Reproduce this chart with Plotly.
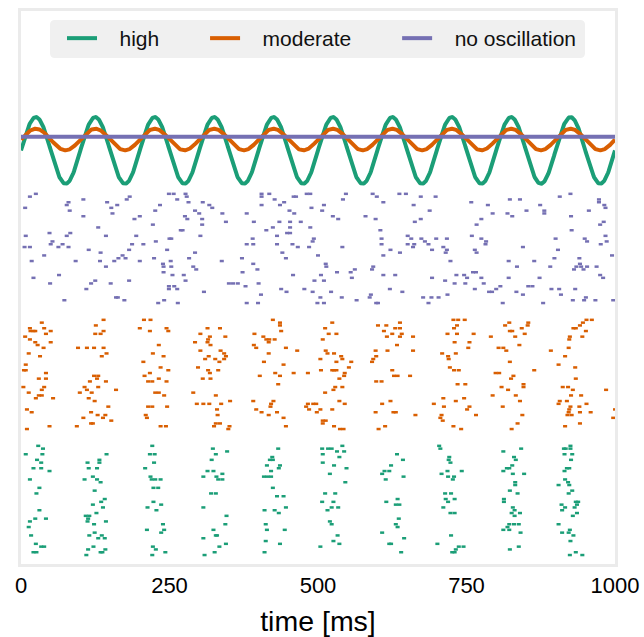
import numpy as np
import plotly.graph_objects as go

# ---------------- data ----------------
groups = ["high", "moderate", "no oscillation"]
colors = {"high": "#1b9e77", "moderate": "#d95f02", "no oscillation": "#7570b3"}

# spikes: (time [ms], neuron index within group 0..39)
high_spikes = [
    (29,39),(37,38),(8,36),(36,36),(27,34),(34,33),(21,31),(34,31),(48,30),(15,27),(31,24),(26,22),(31,16),(24,13),(42,13),(15,12),(13,10),(17,7),(25,4),(34,3),(39,3),(21,1),(26,1),
    (144,36),(132,34),(132,33),(112,33),(114,31),(128,31),(121,28),(128,27),(107,27),(134,26),(124,23),(141,20),(135,19),(121,18),(138,17),(127,15),(109,14),(115,14),(113,13),(112,12),(143,12),(123,11),(124,8),(115,7),(136,7),(130,6),(141,6),(122,3),(113,2),(142,2),(134,1),(137,1),(110,0),
    (221,39),(217,36),(225,36),(224,33),(209,31),(218,28),(220,27),(226,27),(235,27),(223,24),(231,24),(223,19),(236,18),(213,17),(228,16),(239,11),(241,9),(212,9),(236,8),(222,3),(227,2),(243,1),(221,0),
    (323,38),(347,37),(328,36),(321,34),(314,30),(324,30),(307,28),(339,29),(329,28),(332,27),(339,27),(320,22),(328,22),(307,17),(346,14),(344,11),(324,9),(328,7),(330,7),(307,6),(345,4),(334,3),(326,1),(309,0),
    (433,38),(423,35),(419,34),(424,34),(414,32),(436,32),(434,31),(421,30),(409,28),(415,28),(421,28),(424,24),(431,21),(442,21),(446,17),(410,16),(427,16),(434,15),(412,11),(414,9),(444,9),(412,5),(436,4),(410,1),
    (507,38),(517,38),(508,36),(508,33),(520,29),(512,22),(507,19),(516,16),(520,12),(504,3),
    (523,38),(541,39),(532,37),(544,37),(536,35),(527,32),(548,31),(546,26),(529,22),(526,19),(523,17),(534,17),(523,11),(533,7),(526,5),(536,4),
    (633,36),(643,34),(623,32),(612,30),(620,30),(608,29),(614,27),(644,28),(634,20),(615,19),(631,18),(637,18),(636,13),(631,11),(634,10),(608,8),(645,6),(620,4),(623,4),(640,1),
    (704,39),(706,38),(721,35),(720,34),(723,33),(718,30),(742,30),(708,29),(719,28),(729,28),(727,27),(714,22),(724,22),(715,20),(730,20),(719,19),(711,17),(723,15),(730,15),(724,7),(701,4),(737,3),(745,3),(732,2),(726,1),(730,1),
    (812,37),(842,38),(830,35),(833,34),(827,32),(818,31),(822,31),(812,30),(828,29),(847,29),(832,26),(832,25),(823,23),(836,22),(813,20),(813,19),(828,17),(831,16),(826,15),(840,15),(831,14),(822,11),(830,11),(838,11),(819,10),(812,9),(822,9),(841,8),(838,3),(823,2),
    (914,38),(917,38),(925,39),(925,38),(915,36),(928,36),(926,34),(919,31),(923,31),(915,30),(916,27),(921,26),(923,25),(905,25),(928,23),(922,22),(934,19),(938,19),(936,18),(910,18),(916,17),(932,17),(911,16),(936,15),(929,14),(905,11),(924,9),(911,8),(922,8),(930,7),(925,5),(924,0),(934,1),(945,0),
]

moderate_spikes = [
    (35,38),(15,36),(16,35),(21,35),(24,35),(39,36),(50,35),(42,34),(7,33),(15,32),(24,31),(28,30),(50,31),(38,29),(13,27),(32,26),(8,23),(5,21),(8,21),(42,20),(30,18),(42,18),(4,15),(39,15),(35,14),(13,13),(30,12),(35,12),(25,11),(54,11),(10,7),(18,6),(48,1),(10,0),
    (139,39),(126,37),(125,34),(134,34),(139,35),(96,29),(111,29),(123,29),(139,29),(144,27),(136,26),(123,19),(130,19),(128,18),(116,17),(143,17),(107,15),(130,15),(160,14),(111,14),(99,13),(119,13),(114,11),(124,10),(147,8),(118,6),(129,5),(142,5),(105,4),(138,4),(152,3),(118,2),(121,2),(94,1),
    (207,39),(218,39),(200,36),(217,35),(245,36),(248,35),(232,30),(222,27),(240,26),(206,24),(235,22),(248,21),(217,20),(208,19),(214,17),(221,17),(232,18),(245,17),(226,13),(232,13),(241,12),(214,8),(221,8),(246,8),(210,5),(212,4),(235,1),(244,1),
    (314,36),(335,36),(302,34),(318,33),(344,33),(315,32),(314,31),(293,31),(319,30),(302,28),(336,28),(342,27),(345,26),(316,26),(310,25),(327,25),(342,25),(334,24),(298,22),(315,21),(318,20),(332,21),(306,18),(319,18),(290,13),(328,12),(352,10),(296,9),(307,9),(317,9),(337,9),(330,7),(331,5),(328,2),(335,2),(325,1),(351,1),(349,0),
    (424,39),(436,38),(436,37),(438,35),(393,34),(408,33),(413,32),(418,32),(427,32),(417,31),(392,30),(396,29),(446,29),(465,28),(417,27),(409,24),(442,23),(428,20),(459,20),(483,20),(436,19),(402,19),(433,16),(391,10),(425,10),(421,9),(420,8),(396,7),(405,6),(431,6),(417,5),(442,4),(446,1),
    (512,36),(518,34),(508,32),(513,28),(516,27),(504,25),(505,21),(512,13),(483,9),(492,9),(497,9),(480,8),(485,7),(504,7),(498,6),(508,3),(513,3),(508,2),
    (524,38),(531,34),(527,27),(539,26),(541,25),(531,24),(556,24),(552,22),(524,21),(527,21),(531,21),(545,20),(544,19),(536,18),(529,15),(541,15),(526,14),(536,10),(545,9),(524,7),(527,1),(537,0),(543,0),
    (601,37),(615,37),(638,38),(630,36),(638,36),(611,35),(625,34),(641,34),(616,33),(638,33),(660,33),(633,30),(597,28),(617,28),(660,28),(598,26),(593,25),(591,24),(625,21),(628,19),(634,19),(655,19),(598,17),(607,17),(622,10),(608,9),(597,6),(627,6),(631,6),(664,5),(613,1),(602,0),
    (728,39),(736,39),(747,39),(734,37),(729,36),(718,34),(734,34),(762,34),(730,31),(755,31),(753,29),(709,27),(732,27),(719,26),(720,25),(722,22),(729,21),(737,21),(735,16),(748,16),(711,11),(746,11),(732,10),(695,9),(712,8),(755,8),(751,7),(766,5),(708,5),(706,4),(710,3),(728,1),(741,0),
    (822,38),(854,38),(853,37),(815,37),(843,36),(823,35),(827,35),(791,33),(832,33),(848,34),(839,30),(804,29),(812,29),(817,28),(823,24),(799,20),(805,20),(864,21),(829,19),(825,18),(846,16),(846,15),(809,15),(820,14),(794,12),(833,12),(840,10),(811,8),(844,5),(836,2),(826,0),
    (952,39),(961,39),(946,38),(941,37),(930,36),(934,36),(951,35),(924,33),(945,33),(923,32),(922,29),(892,28),(916,26),(905,23),(933,22),(934,18),(912,15),(921,15),(929,14),(985,14),(926,12),(943,12),(907,10),(919,10),(905,9),(952,9),(925,8),(940,8),(923,7),(922,6),(941,6),(959,6),(920,5),(927,5),(941,2),(916,1),(1000,7),(997,4),
]

none_spikes = [
    (15,38),(25,39),(7,34),(80,36),(77,35),(82,33),(105,37),(105,31),(48,25),(53,22),(50,21),(39,17),(18,15),(21,9),(49,7),(64,10),(73,1),(8,24),(6,20),(15,20),(63,20),(70,21),(80,20),(77,24),(83,25),(92,15),(114,19),(130,27),(134,18),(133,15),(143,13),(143,24),(110,5),(118,7),(125,8),(151,7),(160,2),(163,2),(174,1),(182,8),
    (145,36),(152,34),(154,32),(162,35),(178,37),(183,38),(191,30),(200,31),(194,24),(187,21),(182,19),(206,21),(200,15),(176,16),(171,17),(164,16),(157,15),(222,28),(226,33),(234,35),(227,22),(224,16),(239,14),(240,13),(240,11),(241,1),(231,0),
    (249,39),(257,39),(263,37),(277,39),(279,38),(282,36),(276,31),(280,30),(269,26),(272,26),(250,23),(253,23),(246,19),(252,15),(253,13),(255,10),(249,6),(258,6),(263,5),(249,5),(264,0),(274,10),(277,8),(283,16),(293,18),(290,13),(295,12),(308,4),(302,24),(305,28),(305,30),(300,32),(293,33),(306,36),(317,35),(322,34),
    (339,32),(345,29),(338,15),(350,7),(357,7),(365,7),(372,16),(373,11),(378,6),(380,0),(380,32),(390,23),(391,21),(380,21),(392,29),(391,14),(398,12),(400,7),(404,3),(399,0),
    (405,39),(405,38),(418,39),(427,37),(405,35),(413,26),(424,27),(431,24),(435,29),(436,35),(443,36),(452,33),(460,32),(453,29),(453,27),(448,25),(453,25),(457,21),(431,21),(440,18),(446,16),(458,10),(466,20),(471,29),(438,5),(447,4),(477,5),
    (485,20),(487,27),(489,34),(493,23),(491,22),(500,17),(494,8),(491,4),(504,2),(505,10),(510,8),(513,14),(514,13),(510,0),(499,0),(507,33),(510,35),(459,38),(463,38),(481,39),(487,39),
    (525,31),(534,30),(541,20),(542,37),(547,39),(532,11),(555,11),(562,12),(557,9),(522,4),(540,2),(565,1),(580,31),(592,39),(599,38),(610,36),(597,30),(605,26),(607,23),(607,21),(622,19),(610,17),(638,18),(593,13),(591,12),(610,10),(630,10),(621,5),(642,4),(589,3),(587,2),(598,0),(601,0),
    (637,39),(648,39),(661,35),(673,38),(698,38),(688,33),(663,29),(673,30),(651,24),(657,23),(674,23),(680,22),(686,21),(651,21),(662,21),(660,20),(692,19),(699,23),(717,23),(711,20),(717,19),(715,18),(723,15),(692,9),(714,8),(677,2),(691,2),(703,2),(686,0),(718,3),
    (733,10),(746,10),(751,9),(730,7),(748,7),(761,11),(766,11),(775,9),(779,7),(764,5),(788,4),(793,4),(800,5),(807,6),(811,0),(758,36),(786,35),(775,30),(767,28),(759,24),(775,23),(783,22),(782,21),(764,19),(767,18),
    (794,32),(819,32),(827,31),(823,37),(840,37),(851,33),(874,35),(881,33),(881,32),(845,20),(821,15),(835,13),(864,15),(821,9),(873,9),(834,4),(845,3),(854,6),(861,6),(879,0),
    (900,23),(904,19),(898,16),(891,13),(893,5),(906,5),(909,3),(907,38),(925,39),(926,31),(927,26),(956,33),(949,23),(953,22),(940,16),(941,14),(935,13),(943,13),(953,13),(931,12),(947,12),(969,13),(933,5),(929,1),(948,1),(951,2),(967,1),
    (973,37),(973,36),(982,35),(984,34),(975,28),(981,29),(984,24),(986,22),(976,21),(995,17),(975,10),(980,9),(997,1),
]

spikes = {"high": high_spikes, "moderate": moderate_spikes, "no oscillation": none_spikes}

# oscillatory drive (10 Hz), amplitude and baseline in raster-row units
drive_freq_hz = 10.0
drive_amplitude = {"high": 11.9, "moderate": 3.86, "no oscillation": 0.0}
drive_baseline = {"high": 144.5, "moderate": 148.4, "no oscillation": 149.4}

x_ticks = [0, 250, 500, 750, 1000]

# ---------------- layout constants ----------------
row_offset = {"high": 0, "moderate": 45, "no oscillation": 90}
FONT = "Liberation Sans, Arial, Helvetica, sans-serif"
W, H = 644, 637
ML, MR, MT, MB = 21, 29, 11, 73
PW, PH = W - ML - MR, H - MT - MB

def px_x(p):  # pixel -> paper x
    return (p - ML) / PW

def px_y(p):  # pixel -> paper y
    return (H - MB - p) / PH

# legend labels padded so entries are spread as in the reference
legend_label = {
    "high": "\u00a0\u00a0\u00a0high" + "\u00a0" * 7,
    "moderate": "\u00a0\u00a0\u00a0moderate" + "\u00a0" * 7,
    "no oscillation": "\u00a0\u00a0\u00a0no oscillation",
}

fig = go.Figure()

# raster
for g in groups:
    t = [s[0] for s in spikes[g]]
    n = [s[1] + row_offset[g] for s in spikes[g]]
    fig.add_trace(go.Scatter(
        x=t, y=n, mode="markers", showlegend=False, hoverinfo="skip",
        marker=dict(symbol="line-ew", size=2.9, color=colors[g],
                    line=dict(width=2.5, color=colors[g])),
    ))

# drive curves
tt = np.linspace(0, 1000, 1201)
for g in groups:
    yy = drive_baseline[g] + drive_amplitude[g] * np.sin(2 * np.pi * drive_freq_hz * tt / 1000.0)
    fig.add_trace(go.Scatter(
        x=tt, y=yy, mode="lines", name=legend_label[g],
        line=dict(color=colors[g], width=4), hoverinfo="skip",
    ))

# rounded legend background
x0, x1, y0, y1, rr = 50, 585, 20, 58, 5
path = (
    f"M {px_x(x0 + rr)} {px_y(y0)} L {px_x(x1 - rr)} {px_y(y0)} "
    f"Q {px_x(x1)} {px_y(y0)} {px_x(x1)} {px_y(y0 + rr)} "
    f"L {px_x(x1)} {px_y(y1 - rr)} Q {px_x(x1)} {px_y(y1)} {px_x(x1 - rr)} {px_y(y1)} "
    f"L {px_x(x0 + rr)} {px_y(y1)} Q {px_x(x0)} {px_y(y1)} {px_x(x0)} {px_y(y1 - rr)} "
    f"L {px_x(x0)} {px_y(y0 + rr)} Q {px_x(x0)} {px_y(y0)} {px_x(x0 + rr)} {px_y(y0)} Z"
)
fig.add_shape(type="path", path=path, xref="paper", yref="paper",
              fillcolor="#f0f0f0", line=dict(width=0), layer="below")

fig.update_layout(
    width=W, height=H,
    margin=dict(l=ML, r=MR, t=MT, b=MB, autoexpand=False),
    paper_bgcolor="white", plot_bgcolor="white",
    font=dict(family=FONT, color="black"),
    showlegend=True,
    legend=dict(
        orientation="h", x=px_x(62), y=px_y(18),
        xanchor="left", yanchor="top",
        bgcolor="rgba(0,0,0,0)", borderwidth=0,
        font=dict(family=FONT, size=21, color="#111111"),
        itemclick=False, itemdoubleclick=False,
    ),
    xaxis=dict(
        range=[0, 1000], tickmode="array", tickvals=x_ticks,
        ticktext=[str(v) for v in x_ticks],
        showgrid=False, zeroline=False, automargin=False,
        showline=True, mirror=True, linecolor="#ebebeb", linewidth=3,
        ticks="",
        tickfont=dict(family=FONT, size=22, color="black"),
        title=dict(text="time [ms]", font=dict(family=FONT, size=28.5, color="black"), standoff=14),
    ),
    yaxis=dict(
        range=[-3.2, 194.3], showticklabels=False, ticks="",
        showgrid=False, zeroline=False, automargin=False,
        showline=True, mirror=True, linecolor="#ebebeb", linewidth=3,
    ),
)

fig.write_html("out.html")
